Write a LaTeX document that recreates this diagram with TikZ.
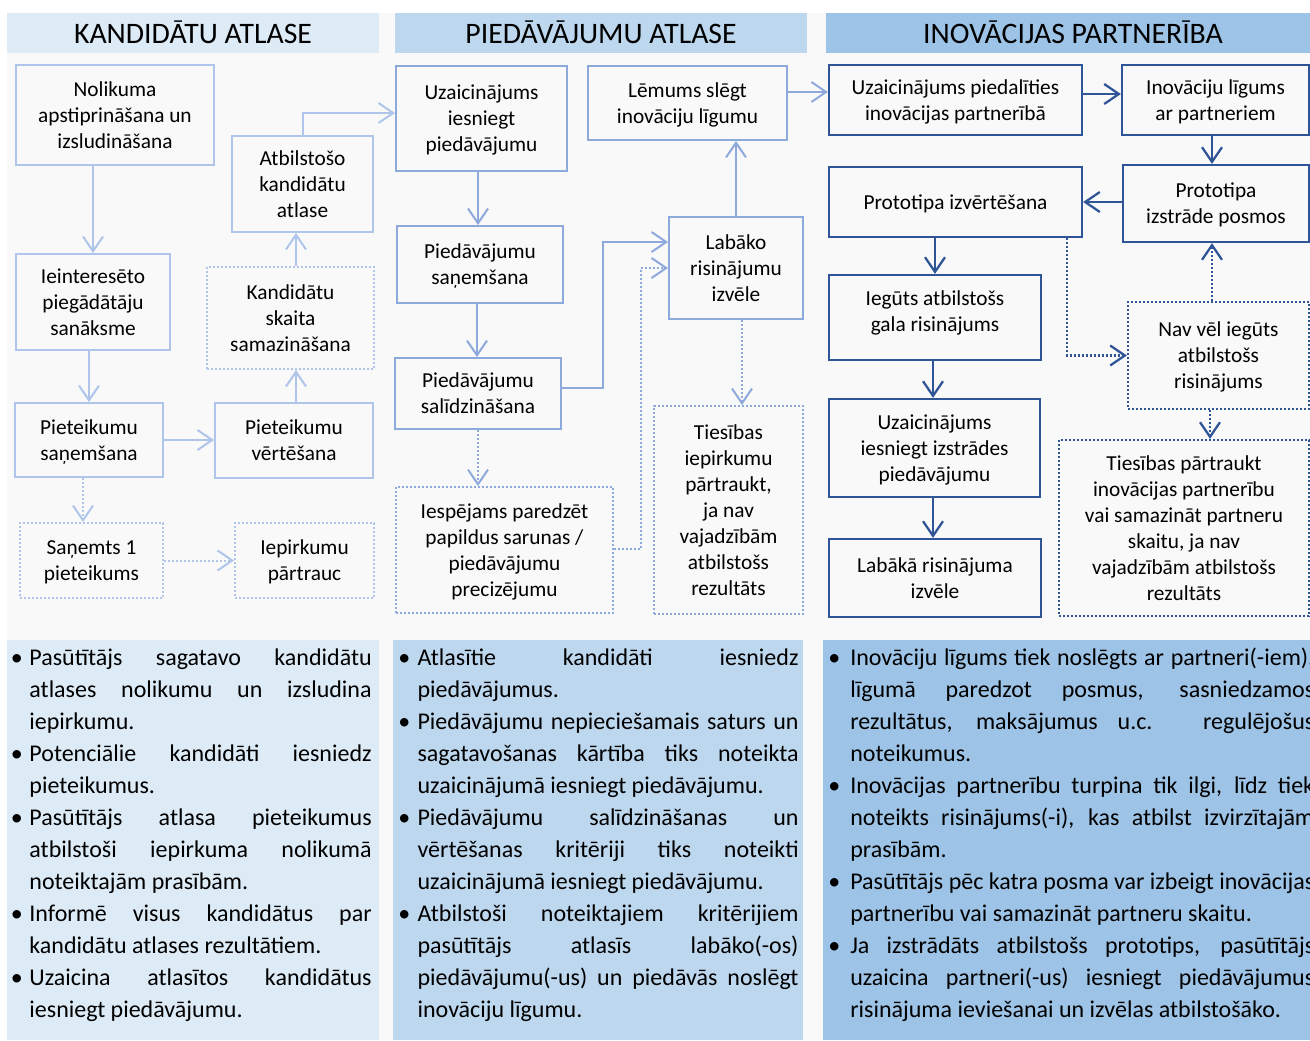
\documentclass[tikz,border=0pt]{standalone}
\usepackage{fontspec}
\setmainfont{Carlito}
\usetikzlibrary{arrows.meta}
\definecolor{hA}{HTML}{DDEBF7}
\definecolor{hB}{HTML}{BDD7EE}
\definecolor{hC}{HTML}{9DC3E6}
\definecolor{lA}{HTML}{AFC5EA}
\definecolor{lB}{HTML}{8EA9DB}
\definecolor{lC}{HTML}{2F5597}
\definecolor{bgc}{HTML}{F9F9F9}
\newcommand\bx[7]{\node[#6, minimum width={(#4-#2)*0.75pt}, minimum height={(#5-#3)*0.75pt}] (#1) at ({(#2+#4)/2},{(#3+#5)/2}) {\rule{0pt}{0.952em}#7\rule[-0.269em]{0pt}{0pt}};}
\newcommand\jl[2]{\makebox[#1][s]{#2}}
\begin{document}
\begin{tikzpicture}[x=0.75pt,y=-0.75pt,
  box/.style={rectangle, inner sep=0pt, align=center, font=\fontsize{16}{19.5}\selectfont, line width=1.5pt},
  bA/.style={box, draw=lA}, bB/.style={box, draw=lB}, bC/.style={box, draw=lC, line width=1.7pt},
  dotln/.style={dash pattern=on 1.5pt off 1.5pt},
  dA/.style={bA, dotln}, dB/.style={bB, dotln}, dC/.style={bC, dotln},
  head/.style={rectangle, inner sep=0pt, font=\fontsize{22.3}{26}\selectfont},
  tip/.style={-{Straight Barb[length=11pt,width=15pt]}},
  aA/.style={draw=lA, line width=1.5pt, tip}, aB/.style={draw=lB, line width=1.5pt, tip}, aC/.style={draw=lC, line width=1.7pt, tip},
  daA/.style={aA, dotln}, daB/.style={aB, dotln}, daC/.style={aC, dotln},
  body/.style={anchor=north west, inner sep=0pt, align=left, font=\fontsize{18}{24}\selectfont}
]
\useasboundingbox (0,0) rectangle (1310,1040);
\begin{scope}
\clip (0,0) rectangle (1310,1040);
\fill[white] (0,0) rectangle (1310,1040);
\fill[bgc] (7,13) rectangle (1310,1040);
% headers
\bx{hd1}{7}{13}{379}{53}{head, fill=hA}{KANDIDĀTU ATLASE}
\bx{hd2}{395}{13}{807}{53}{head, fill=hB}{PIEDĀVĀJUMU ATLASE}
\bx{hd3}{826}{13}{1320}{53}{head, fill=hC}{INOVĀCIJAS PARTNERĪBA}
% bottom panels
\fill[hA] (7,640) rectangle (379,1040);
\fill[hB] (393,640) rectangle (803,1040);
\fill[hC] (823,640) rectangle (1310,1040);
% helper coordinates
\coordinate (x83) at (83,0); \coordinate (x296) at (296,0); \coordinate (y113) at (0,113);
\coordinate (x478) at (478,0); \coordinate (x477) at (477,0); \coordinate (x603) at (603,0);
\coordinate (y388) at (0,388); \coordinate (y242) at (0,242); \coordinate (x641) at (641,0);
\coordinate (y549) at (0,549); \coordinate (x742) at (742,0); \coordinate (y92) at (0,92);
\coordinate (y94) at (0,94); \coordinate (x1212) at (1212,0); \coordinate (y202) at (0,202);
\coordinate (x933) at (933,0); \coordinate (x1067) at (1067,0); \coordinate (x1210) at (1210,0);
% column 1
\bx{nol}{16}{65}{214}{165}{bA}{Nolikuma\\apstiprināšana un\\izsludināšana}
\bx{iei}{16}{254}{170}{350}{bA}{Ieinteresēto\\piegādātāju\\sanāksme}
\bx{pie}{15}{403}{163}{477}{bA}{Pieteikumu\\saņemšana}
\bx{ver}{215}{403}{373}{478}{bA}{Pieteikumu\\vērtēšana}
\bx{kand}{207}{267}{374}{369}{dA}{Kandidātu\\skaita\\samazināšana}
\bx{atb}{232}{136}{373}{232}{bA}{Atbilstošo\\kandidātu\\atlase}
\bx{sa1}{20}{523}{163}{598}{dA}{Saņemts 1\\pieteikums}
\bx{iep}{235}{523}{374}{598}{dA}{Iepirkumu\\pārtrauc}
% column 2
\bx{uz}{396}{66}{567}{171}{bB}{Uzaicinājums\\iesniegt\\piedāvājumu}
\bx{psan}{397}{226}{563}{303}{bB}{Piedāvājumu\\saņemšana}
\bx{psal}{395}{358}{561}{429}{bB}{Piedāvājumu\\salīdzināšana}
\bx{iesp}{396}{487}{613}{613}{dB}{Iespējams paredzēt\\papildus sarunas /\\piedāvājumu\\precizējumu}
\bx{lem}{588}{66}{787}{140}{bB}{Lēmums slēgt\\inovāciju līgumu}
\bx{lab}{669}{217}{803}{319}{bB}{Labāko\\risinājumu\\izvēle}
\bx{ties}{654}{406}{803}{614}{dB}{Tiesības\\iepirkumu\\pārtraukt,\\ja nav\\vajadzībām\\atbilstošs\\rezultāts}
% column 3
\bx{up}{829}{65}{1082}{135}{bC}{Uzaicinājums piedalīties\\inovācijas partnerībā}
\bx{inl}{1122}{65}{1309}{135}{bC}{Inovāciju līgums\\ar partneriem}
\bx{piz}{829}{167}{1082}{237}{bC}{Prototipa izvērtēšana}
\bx{pis}{1123}{165}{1309}{242}{bC}{Prototipa\\izstrāde posmos}
\bx{ieg}{829}{275}{1041}{360}{bC}{Iegūts atbilstošs\\gala risinājums\rule[-13pt]{0pt}{0pt}}
\bx{uzi}{829}{399}{1040}{497}{bC}{Uzaicinājums\\iesniegt izstrādes\\piedāvājumu}
\bx{lbr}{829}{539}{1041}{617}{bC}{Labākā risinājuma\\izvēle}
\bx{nav}{1128}{302}{1309}{409}{dC}{Nav vēl iegūts\\atbilstošs\\risinājums}
\bx{tpa}{1059}{440}{1309}{616}{dC}{Tiesības pārtraukt\\inovācijas partnerību\\vai samazināt partneru\\skaitu, ja nav\\vajadzībām atbilstošs\\rezultāts}
% connectors column 1
\draw[aA] (nol.south -| iei.north) -- (iei.north);
\draw[aA] (iei.south -| pie.north) -- (pie.north);
\draw[aA] (pie.east) -- (pie.east -| ver.west);
\draw[aA] (ver.north -| x296) -- (kand.south -| x296);
\draw[aA] (kand.north -| x296) -- (atb.south -| x296);
\draw[aA] (atb.north) |- (uz.west |- y113);
\draw[daA] (pie.south -| x83) -- (sa1.north -| x83);
\draw[daA] (sa1.east) -- (sa1.east -| iep.west);
% connectors column 2
\draw[aB] (uz.south -| x478) -- (psan.north -| x478);
\draw[aB] (psan.south -| x477) -- (psal.north -| x477);
\draw[aB] (psal.east |- y388) -- (x603 |- y388) -- (x603 |- y242) -- (lab.west |- y242);
\draw[daB] (iesp.east |- y549) -- (x641 |- y549) -- (x641 |- lab.west) -- (lab.west);
\draw[daB] (psal.south -| x478) -- (iesp.north -| x478);
\draw[aB] (lab.north) -- (lab.north |- lem.south);
\draw[daB] (lab.south -| x742) -- (ties.north -| x742);
\draw[aB] (lem.east |- y92) -- (up.west |- y92);
% connectors column 3
\draw[aC] (up.east |- y94) -- (inl.west |- y94);
\draw[aC] (inl.south -| x1212) -- (pis.north -| x1212);
\draw[aC] (pis.west |- y202) -- (piz.east |- y202);
\draw[aC] (piz.south -| ieg.north) -- (ieg.north);
\draw[aC] (ieg.south -| x933) -- (uzi.north -| x933);
\draw[aC] (uzi.south -| x933) -- (lbr.north -| x933);
\draw[daC] (piz.south -| x1067) |- (nav.west);
\draw[daC] (nav.north -| x1212) -- (pis.south -| x1212);
\draw[daC] (nav.south -| x1210) -- (tpa.north -| x1210);
% bottom texts
\node[body] (t1) at (10.5,641) {%
\makebox[14pt][l]{\rule{0pt}{18pt}•}\jl{256.7pt}{Pasūtītājs sagatavo kandidātu}\\
\hspace*{14pt}\jl{256.7pt}{atlases nolikumu un izsludina}\\
\hspace*{14pt}iepirkumu.\\
\makebox[14pt][l]{•}\jl{256.7pt}{Potenciālie kandidāti iesniedz}\\
\hspace*{14pt}pieteikumus.\\
\makebox[14pt][l]{•}\jl{256.7pt}{Pasūtītājs atlasa pieteikumus}\\
\hspace*{14pt}\jl{256.7pt}{atbilstoši iepirkuma nolikumā}\\
\hspace*{14pt}noteiktajām prasībām.\\
\makebox[14pt][l]{•}\jl{256.7pt}{Informē visus kandidātus par}\\
\hspace*{14pt}kandidātu atlases rezultātiem.\\
\makebox[14pt][l]{•}\jl{256.7pt}{Uzaicina atlasītos kandidātus}\\
\hspace*{14pt}iesniegt piedāvājumu.};
\node[body] (t2) at (398,641) {%
\makebox[14.5pt][l]{\rule{0pt}{18pt}•}\jl{285.75pt}{Atlasītie kandidāti iesniedz}\\
\hspace*{14.5pt}piedāvājumus.\\
\makebox[14.5pt][l]{•}\jl{285.75pt}{Piedāvājumu nepieciešamais saturs un}\\
\hspace*{14.5pt}\jl{285.75pt}{sagatavošanas kārtība tiks noteikta}\\
\hspace*{14.5pt}uzaicinājumā iesniegt piedāvājumu.\\
\makebox[14.5pt][l]{•}\jl{285.75pt}{Piedāvājumu salīdzināšanas un}\\
\hspace*{14.5pt}\jl{285.75pt}{vērtēšanas kritēriji tiks noteikti}\\
\hspace*{14.5pt}uzaicinājumā iesniegt piedāvājumu.\\
\makebox[14.5pt][l]{•}\jl{285.75pt}{Atbilstoši noteiktajiem kritērijiem}\\
\hspace*{14.5pt}\jl{285.75pt}{pasūtītājs atlasīs labāko(-os)}\\
\hspace*{14.5pt}\jl{285.75pt}{piedāvājumu(-us) un piedāvās noslēgt}\\
\hspace*{14.5pt}inovāciju līgumu.};
\node[body] (t3) at (828,641) {%
\makebox[16.5pt][l]{\rule{0pt}{18pt}•}\jl{348pt}{Inovāciju līgums tiek noslēgts ar partneri(-iem),}\\
\hspace*{16.5pt}\jl{348pt}{līgumā paredzot posmus, sasniedzamos}\\
\hspace*{16.5pt}\jl{348pt}{rezultātus, maksājumus u.c. regulējošus}\\
\hspace*{16.5pt}noteikumus.\\
\makebox[16.5pt][l]{•}\jl{348pt}{Inovācijas partnerību turpina tik ilgi, līdz tiek}\\
\hspace*{16.5pt}\jl{348pt}{noteikts risinājums(-i), kas atbilst izvirzītajām}\\
\hspace*{16.5pt}prasībām.\\
\makebox[16.5pt][l]{•}\jl{348pt}{Pasūtītājs pēc katra posma var izbeigt inovācijas}\\
\hspace*{16.5pt}partnerību vai samazināt partneru skaitu.\\
\makebox[16.5pt][l]{•}\jl{348pt}{Ja izstrādāts atbilstošs prototips, pasūtītājs}\\
\hspace*{16.5pt}\jl{348pt}{uzaicina partneri(-us) iesniegt piedāvājumus}\\
\hspace*{16.5pt}risinājuma ieviešanai un izvēlas atbilstošāko.};
\end{scope}
\end{tikzpicture}
\end{document}
